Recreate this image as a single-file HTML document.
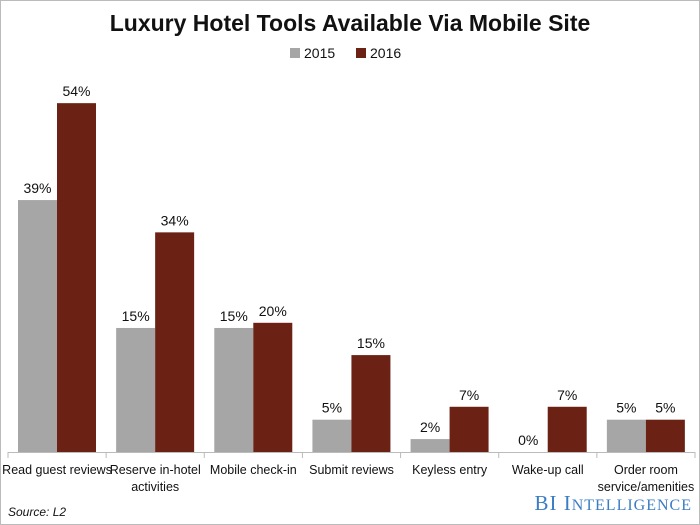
<!DOCTYPE html>
<html><head><meta charset="utf-8"><style>
body{margin:0;background:#fff}
svg{display:block;font-family:"Liberation Sans",sans-serif}
</style></head><body>
<svg id="chart" width="700" height="525">
<rect x="0.5" y="0.5" width="699" height="524" fill="#fff" stroke="#bbb"/>
<text x="350" y="31" text-anchor="middle" font-size="23" font-weight="bold" fill="#111">Luxury Hotel Tools Available Via Mobile Site</text>
<g>
<rect x="290" y="48" width="10" height="10" fill="#a6a6a6"/>
<text x="304" y="58" font-size="14" fill="#111">2015</text>
<rect x="356" y="48" width="10" height="10" fill="#6b2114"/>
<text x="370" y="58" font-size="14" fill="#111">2016</text>
</g>
<g id="plot"></g>
<text x="8" y="516" font-size="12" font-style="italic" fill="#111">Source: L2</text>
<text x="692" y="510" text-anchor="end" font-family="Liberation Serif,serif" font-size="21" fill="#3b7dc4" letter-spacing="1">BI I<tspan font-size="16">NTELLIGENCE</tspan></text>
</svg>
<script>
const categories=[["Read guest reviews"],["Reserve in-hotel","activities"],["Mobile check-in"],["Submit reviews"],["Keyless entry"],["Wake-up call"],["Order room","service/amenities"]];
const values2015=[39,19.2,19.2,5,2,0,5];
const values2016=[54,34,20,15,7,7,5];
const labels2015=["39%","15%","15%","5%","2%","0%","5%"];
const labels2016=["54%","34%","20%","15%","7%","7%","5%"];
const x0=8,x1=695,base=452,pxPer=6.46;
const gw=(x1-x0)/categories.length;
function xg(i){return x0+i*gw;}
function yv(v){return base-v*pxPer;}
const ns="http://www.w3.org/2000/svg";
const plot=document.getElementById("plot");
function mk(tag,attrs){const e=document.createElementNS(ns,tag);for(const k in attrs)e.setAttribute(k,attrs[k]);plot.appendChild(e);return e;}
categories.forEach((c,i)=>{
  const gx=xg(i)+10;
  [[values2015,labels2015,"#a6a6a6","2015",0],[values2016,labels2016,"#6b2114","2016",39]].forEach(s=>{
    const v=s[0][i];
    const r=mk("rect",{x:gx+s[4],y:yv(v),width:39,height:base-yv(v),fill:s[2]});
    
    
    const t=mk("text",{x:gx+s[4]+19.5,y:yv(v)-7,"text-anchor":"middle","font-size":"14",fill:"#111"});
    t.textContent=s[1][i];
    
    
  });
  c.forEach((ln,j)=>{
    const t=mk("text",{x:xg(i)+gw/2,y:474+j*17,"text-anchor":"middle","font-size":"12.5",fill:"#111"});
    t.textContent=ln;
    
    
  });
});
const ax=mk("line",{x1:x0,x2:x1,y1:base+0.5,y2:base+0.5,stroke:"#bbb"});


for(let i=0;i<=categories.length;i++){
  const tk=mk("line",{x1:xg(i),x2:xg(i),y1:base,y2:base+6,stroke:"#bbb"});
  
  
}
</script>
</body></html>
